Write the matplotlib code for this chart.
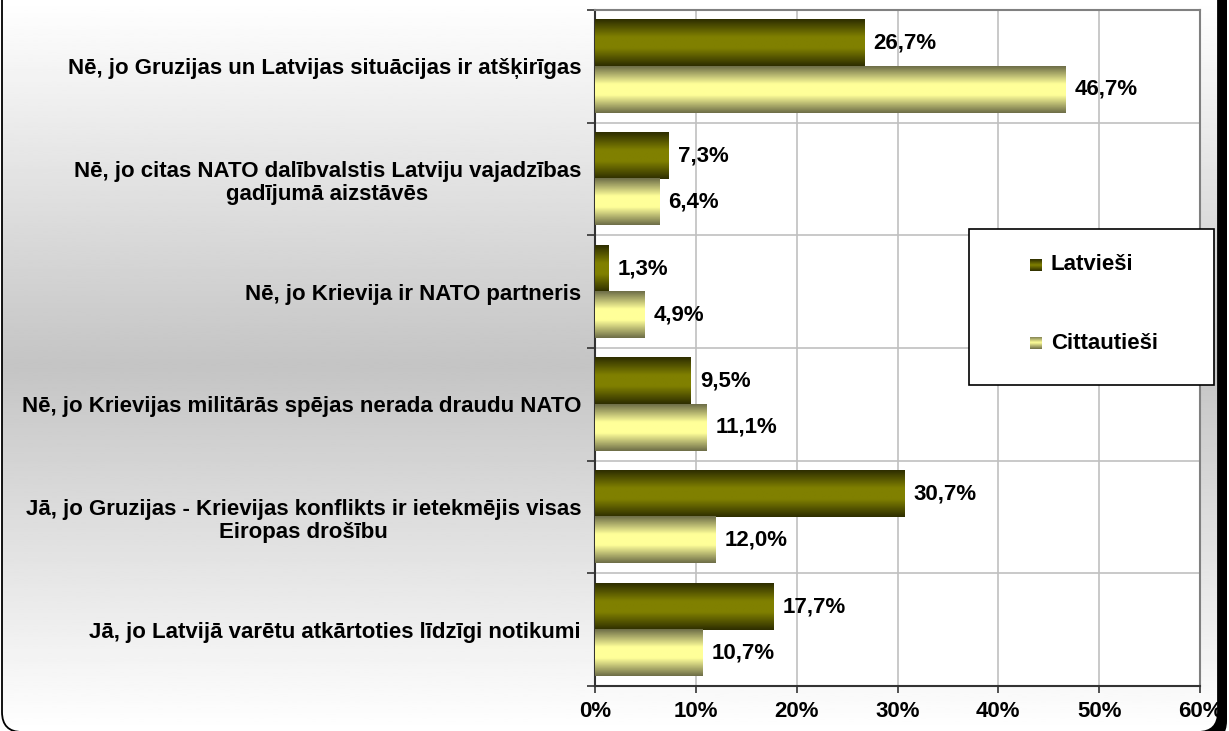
import numpy as np
import matplotlib
matplotlib.use('Agg')
import matplotlib.pyplot as plt
from matplotlib.colors import LinearSegmentedColormap
from matplotlib.patches import FancyBboxPatch, Rectangle

# Survey answers, top to bottom
categories = [
    "Nē, jo Gruzijas un Latvijas situācijas ir atšķirīgas",
    "Nē, jo citas NATO dalībvalstis Latviju vajadzības\ngadījumā aizstāvēs",
    "Nē, jo Krievija ir NATO partneris",
    "Nē, jo Krievijas militārās spējas nerada draudu NATO",
    "Jā, jo Gruzijas - Krievijas konflikts ir ietekmējis visas\nEiropas drošību",
    "Jā, jo Latvijā varētu atkārtoties līdzīgi notikumi",
]
series_names = ["Latvieši", "Cittautieši"]
latviesi = [26.7, 7.3, 1.3, 9.5, 30.7, 17.7]
cittautiesi = [46.7, 6.4, 4.9, 11.1, 12.0, 10.7]
x_ticks = [0, 10, 20, 30, 40, 50, 60]

# (edge colour, middle colour) of the bar gradients
bar_colors = [("#2e2e00", "#808000"), ("#6e6e48", "#ffff99")]

W, H = 1229, 731
fig = plt.figure(figsize=(W / 100, H / 100), dpi=100)
fig.patch.set_facecolor("white")

# background frame with a vertical grey gradient and a dark drop shadow
# (pixel coordinates, y going up)
bg = fig.add_axes([0, 0, 1, 1], zorder=-10)
bg.set_xlim(0, W)
bg.set_ylim(0, H)
bg.axis("off")
box = dict(boxstyle="round,pad=0,rounding_size=20")
bg.add_patch(FancyBboxPatch((10, -10), 1217, H + 60, facecolor="black", edgecolor="none",
                            zorder=1, **box))
frame = FancyBboxPatch((2, -1), 1216, H + 60, facecolor="white", edgecolor="none",
                       zorder=1.5, **box)
bg.add_patch(frame)
yy = np.linspace(0, 1, 300)[:, None]
shade = 1 - 0.23 * (1 - np.abs(yy - 0.5) / 0.5)
bg_img = bg.imshow(shade, cmap="gray", vmin=0, vmax=1, extent=(0, W, 0, H),
                   aspect="auto", interpolation="bilinear", zorder=2, origin="lower")
bg_img.set_clip_path(frame)
bg.add_patch(FancyBboxPatch((2, -1), 1216, H + 60, facecolor="none", edgecolor="black",
                            linewidth=1.3, zorder=3, **box))
bg.set_xlim(0, W)
bg.set_ylim(0, H)

ax = fig.add_axes([595 / W, 1 - 686 / H, 605 / W, 676 / H])
ax.set_facecolor("white")

y = np.arange(len(categories))
h = 0.41
bars_lat = ax.barh(y - h / 2, latviesi, height=h, color=bar_colors[0][1], zorder=3)
bars_cit = ax.barh(y + h / 2, cittautiesi, height=h, color=bar_colors[1][1], zorder=3)

grad = np.linspace(0, 1, 100)[:, None]
for bars, (edge, mid) in zip([bars_lat, bars_cit], bar_colors):
    cmap = LinearSegmentedColormap.from_list(
        "g", [(0, edge), (0.38, mid), (0.62, mid), (1, edge)])
    for p in bars:
        x0, y0, w, hh = p.get_x(), p.get_y(), p.get_width(), p.get_height()
        ax.imshow(grad, cmap=cmap, extent=(x0, x0 + w, y0 + hh, y0), aspect="auto",
                  interpolation="bilinear", zorder=4)
        lbl = f"{w:.1f}".replace(".", ",") + "%"
        ax.annotate(lbl, (x0 + w, y0 + hh / 2), xytext=(6.5, 0), textcoords="offset points",
                    ha="left", va="center", fontsize=16, fontweight="bold",
                    family="Liberation Sans", zorder=5)

ax.set_xlim(0, 60)
ax.set_ylim(len(categories) - 0.5, -0.5)

ax.set_xticks(x_ticks)
ax.set_xticklabels([f"{t}%" for t in x_ticks], fontsize=16, fontweight="bold",
                   family="Liberation Sans")
ax.tick_params(axis="x", length=5, width=1.2, color="#333333", pad=6)
ax.xaxis.grid(True, color="#c0c0c0", linewidth=1.2, zorder=0)

ax.set_yticks(y)
ax.set_yticklabels(categories, fontsize=16, fontweight="bold", family="Liberation Sans",
                   multialignment="center", linespacing=1.15)
ax.tick_params(axis="y", which="major", length=0, pad=10)
ax.set_yticks(np.arange(len(categories) + 1) - 0.5, minor=True)
ax.tick_params(axis="y", which="minor", length=6, width=1.2, color="#333333")
ax.yaxis.grid(True, which="minor", color="#c0c0c0", linewidth=1.2, zorder=0)
ax.set_axisbelow(True)

for side in ["left", "bottom"]:
    ax.spines[side].set_color("#333333")
    ax.spines[side].set_linewidth(1.5)
for side in ["top", "right"]:
    ax.spines[side].set_color("#808080")
    ax.spines[side].set_linewidth(1.5)

# legend box
fig.patches.append(Rectangle((969 / W, 1 - 385 / H), 245 / W, 156 / H, transform=fig.transFigure,
                             facecolor="white", edgecolor="black", linewidth=1.2, zorder=10))
for i, (name, (edge, mid)) in enumerate(zip(series_names, bar_colors)):
    yc = 1 - (265 + 78 * i) / H
    cmap = LinearSegmentedColormap.from_list("g", [(0, edge), (0.5, mid), (1, edge)])
    sq = fig.add_axes([1030 / W, yc - 6 / H, 12 / W, 12 / H], zorder=11)
    sq.imshow(grad, cmap=cmap, aspect="auto", interpolation="bilinear")
    sq.set_xticks([])
    sq.set_yticks([])
    for s in sq.spines.values():
        s.set_visible(False)
    fig.text(1051 / W, yc, name, fontsize=16, fontweight="bold", family="Liberation Sans",
             va="center", ha="left", zorder=12)

fig.savefig("out.png", dpi=100)
